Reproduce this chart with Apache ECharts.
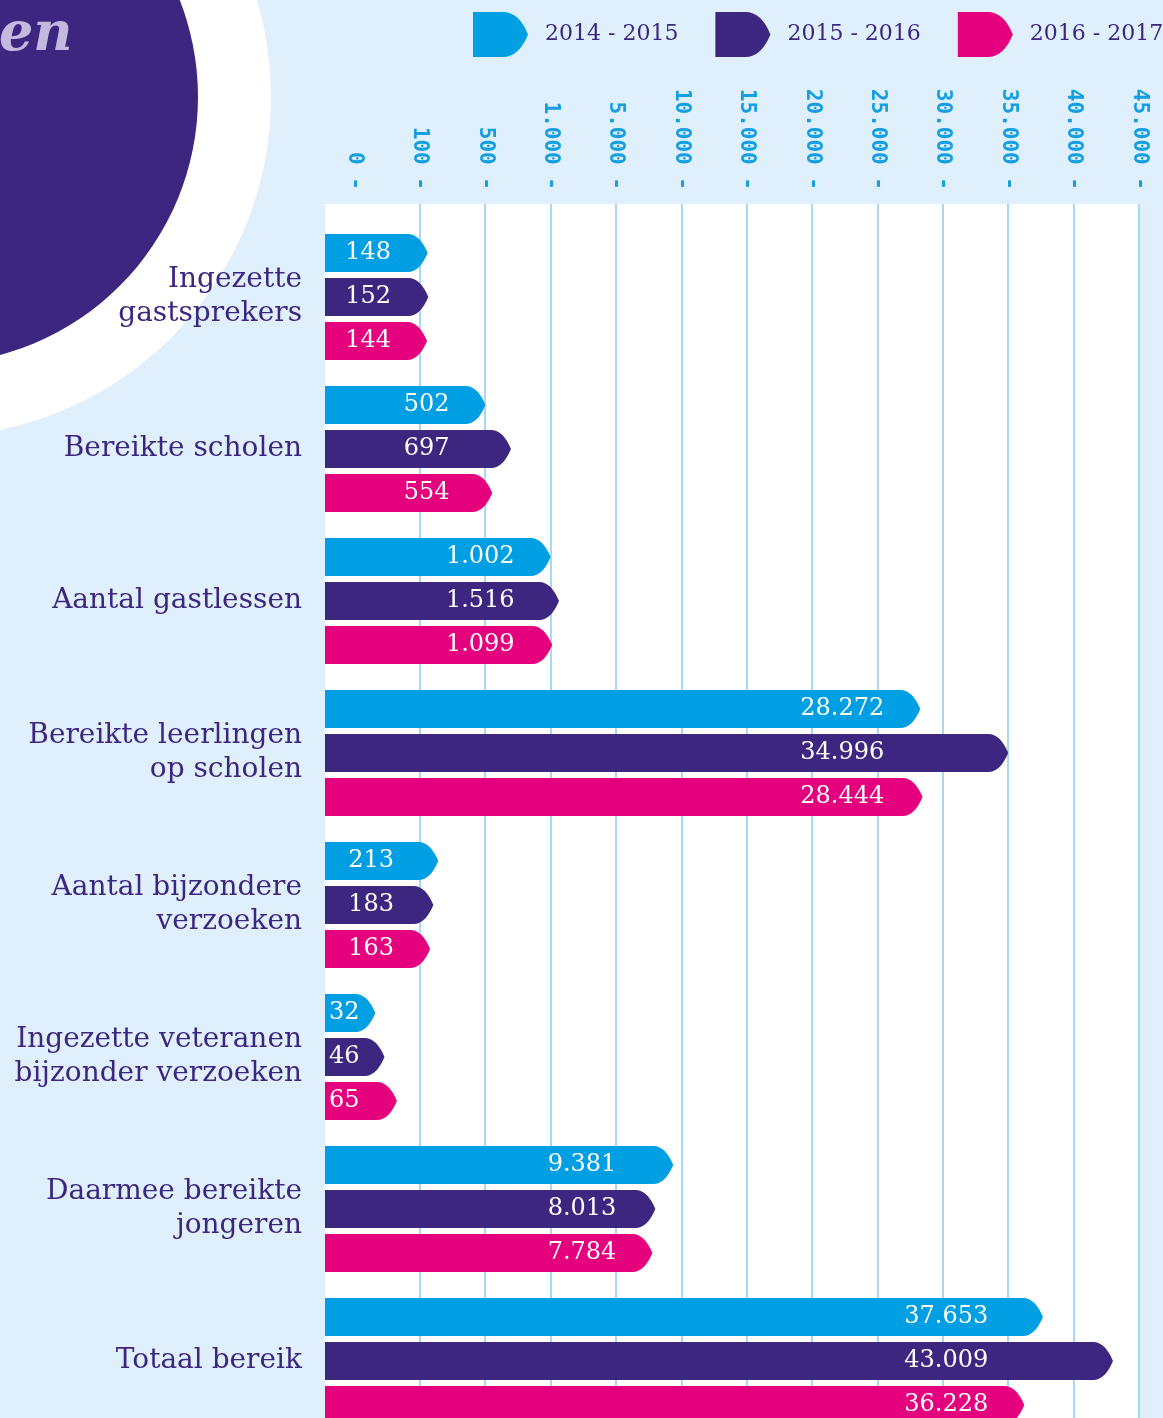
<!DOCTYPE html>
<html lang="nl">
  <head>
    <meta charset="utf-8" />
    <title>Bereik gastlessen</title>
    <script src="https://cdn.jsdelivr.net/npm/echarts@6/dist/echarts.min.js"></script>
    <style>
      html, body { margin: 0; padding: 0; background: #dff0fc; }
      #chart { width: 1163px; height: 1418px; }
    </style>
  </head>
  <body>
    <div id="chart"></div>
    <script>
      // categorieen, van boven naar onder
      var categories = [
        'Ingezette\ngastsprekers',
        'Bereikte scholen',
        'Aantal gastlessen',
        'Bereikte leerlingen\nop scholen',
        'Aantal bijzondere\nverzoeken',
        'Ingezette veteranen\nbijzonder verzoeken',
        'Daarmee bereikte\njongeren',
        'Totaal bereik'
      ]
      var seasons = ['2014 - 2015', '2015 - 2016', '2016 - 2017']
      var values2014 = [148, 502, 1002, 28272, 213, 32, 9381, 37653]
      var values2015 = [152, 697, 1516, 34996, 183, 46, 8013, 43009]
      var values2016 = [144, 554, 1099, 28444, 163, 65, 7784, 36228]
      // de x-as is niet lineair: elke stap is even breed
      var axisTicks = [0, 100, 500, 1000, 5000, 10000, 15000, 20000, 25000, 30000, 35000, 40000, 45000]

      var colors = ['#009fe3', '#3d2680', '#e5007e']
      var seriesValues = [values2014, values2015, values2016]
      var valueFont = '24px "DejaVu Serif"'

      function toAxis(v) {
        for (var i = 0; i < axisTicks.length - 1; i++) {
          if (v <= axisTicks[i + 1]) return i + (v - axisTicks[i]) / (axisTicks[i + 1] - axisTicks[i])
        }
        return axisTicks.length - 1
      }
      function fmt(v) {
        return String(v).replace(/\B(?=(\d{3})+(?!\d))/g, '.')
      }
      var measure = document.createElement('canvas').getContext('2d')
      measure.font = valueFont

      function makeRender(s) {
        return function (params, api) {
          var k = api.value(0)
          var c = api.coord([api.value(1), k + (s - 1) * 0.29])
          var band = api.size([0, 1])[1]
          var h = band * 0.25
          var x0 = params.coordSys.x
          var xe = c[0], ym = c[1], y0 = ym - h / 2, y1 = ym + h / 2
          var tip = h * 0.52
          var xa = xe - tip
          var xc = xe - tip * 0.4
          var path = 'M' + x0 + ' ' + y0 + 'L' + xa + ' ' + y0 +
            'Q' + xc + ' ' + y0 + ' ' + xe + ' ' + ym +
            'Q' + xc + ' ' + y1 + ' ' + xa + ' ' + y1 +
            'L' + x0 + ' ' + y1 + 'Z'
          // labels van een groep staan recht onder elkaar, bij de kortste balk
          var groupMin = Math.min(values2014[k], values2015[k], values2016[k])
          var minEnd = api.coord([toAxis(groupMin), k])[0]
          var label = fmt(api.value(2))
          var right = Math.max(minEnd - 36, x0 + 4 + measure.measureText(label).width)
          return {
            type: 'group',
            children: [
              { type: 'path', shape: { pathData: path }, style: { fill: colors[s] } },
              {
                type: 'text', x: right, y: ym,
                style: { text: label, fill: '#fff', font: valueFont, align: 'right', verticalAlign: 'middle' }
              }
            ]
          }
        }
      }

      var chart = echarts.init(document.getElementById('chart'))
      chart.setOption({
        backgroundColor: '#dff0fc',
        color: colors,
        animation: false,
        graphic: [
          { type: 'circle', z: -10, shape: { cx: -69, cy: 97, r: 340 }, style: { fill: '#ffffff' } },
          { type: 'circle', z: -9, shape: { cx: -69, cy: 97, r: 267 }, style: { fill: '#3d2680' } },
          {
            type: 'text', z: -8, x: -1, y: 9,
            style: { text: 'en', fill: '#c3b8de', font: 'italic bold 54px "DejaVu Serif"' }
          }
        ],
        legend: {
          data: seasons,
          left: 473,
          top: 12,
          width: 720,
          padding: 0,
          itemWidth: 55,
          itemHeight: 45,
          itemGap: 37,
          icon: 'path://M0,0L30,0Q46,0 55,22.5Q46,45 30,45L0,45Z',
          textStyle: { color: '#3d2680', fontFamily: 'DejaVu Serif', fontSize: 22, padding: [6, 0, 0, 12] }
        },
        grid: {
          left: 325, right: 24, top: 204, bottom: 0,
          show: true, backgroundColor: '#ffffff', borderWidth: 0
        },
        xAxis: {
          type: 'value',
          position: 'top',
          min: -0.45,
          max: 12,
          axisLine: { show: false },
          axisTick: { show: false, customValues: [1, 2, 3, 4, 5, 6, 7, 8, 9, 10, 11, 12] },
          splitLine: { show: true, lineStyle: { color: '#a9d7f4', width: 2 } },
          axisLabel: {
            customValues: [0, 1, 2, 3, 4, 5, 6, 7, 8, 9, 10, 11, 12],
            rotate: -90,
            margin: 14,
            color: '#159fe0',
            fontFamily: 'DejaVu Sans Mono',
            fontWeight: 'bold',
            fontSize: 21,
            formatter: function (v) { return fmt(axisTicks[Math.round(v)]) + ' -' }
          }
        },
        yAxis: {
          type: 'value',
          inverse: true,
          min: -0.612,
          max: 7.375,
          axisLine: { show: false },
          axisTick: { show: false },
          splitLine: { show: false },
          axisLabel: {
            customValues: [0, 1, 2, 3, 4, 5, 6, 7],
            margin: 23,
            align: 'right',
            color: '#3d2680',
            fontFamily: 'DejaVu Serif',
            fontSize: 28,
            lineHeight: 34,
            formatter: function (v) { return categories[Math.round(v)] }
          }
        },
        series: seriesValues.map(function (vals, s) {
          return {
            type: 'custom',
            name: seasons[s],
            itemStyle: { color: colors[s] },
            renderItem: makeRender(s),
            encode: { x: 1, y: 0 },
            data: vals.map(function (v, k) { return [k, toAxis(v), v] })
          }
        })
      })
    </script>
  </body>
</html>
